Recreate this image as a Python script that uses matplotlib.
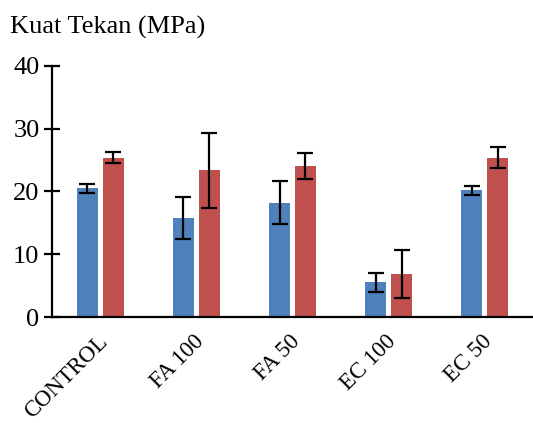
import matplotlib.pyplot as plt
import matplotlib.transforms as mtransforms
import numpy as np

plt.rcParams['font.family'] = ['Liberation Serif', 'DejaVu Serif']

categories = ['CONTROL', 'FA 100', 'FA 50', 'EC 100', 'EC 50']
seri1 = [20.5, 15.8, 18.2, 5.5, 20.2]
err1 = [0.7, 3.4, 3.4, 1.55, 0.75]
seri2 = [25.4, 23.4, 24.1, 6.8, 25.4]
err2 = [0.9, 6.0, 2.1, 3.8, 1.7]

fig = plt.figure(figsize=(5.33, 4.23), dpi=100)
ax = fig.add_axes([52 / 533, 1 - 317 / 423, 1 - 52 / 533, (317 - 66) / 423])

x = np.arange(len(categories))
w = 0.22
err_kw = dict(ecolor='black', elinewidth=1.6, capsize=5.5, capthick=1.6)
ax.bar(x - 0.135, seri1, w, yerr=err1, color='#4F81BD', error_kw=err_kw, zorder=2)
ax.bar(x + 0.135, seri2, w, yerr=err2, color='#C0504D', error_kw=err_kw, zorder=2)

ax.set_xlim(-0.5, 4.5)
ax.set_ylim(0, 40)
ax.set_yticks([0, 10, 20, 30, 40])
ax.set_xticks(x)
ax.set_xticklabels(categories, rotation=45, ha='right', rotation_mode='anchor')

ax.spines['right'].set_color('none')
ax.spines['top'].set_color('none')
ax.spines['left'].set_linewidth(1.6)
ax.spines['bottom'].set_linewidth(1.6)
ax.tick_params(axis='y', direction='inout', length=12, width=1.6, labelsize=19, pad=3)
ax.tick_params(axis='x', length=0, labelsize=16.5, pad=10)

# geser label sumbu x sedikit ke kiri
shift = mtransforms.ScaledTranslation(-3 / 100, 0, fig.dpi_scale_trans)
for lab in ax.get_xticklabels():
    lab.set_transform(lab.get_transform() + shift)

fig.text(10 / 533, 1 - 27 / 423, 'Kuat Tekan (MPa)', fontsize=19, va='center', ha='left')

fig.savefig('out.png', dpi=100)
